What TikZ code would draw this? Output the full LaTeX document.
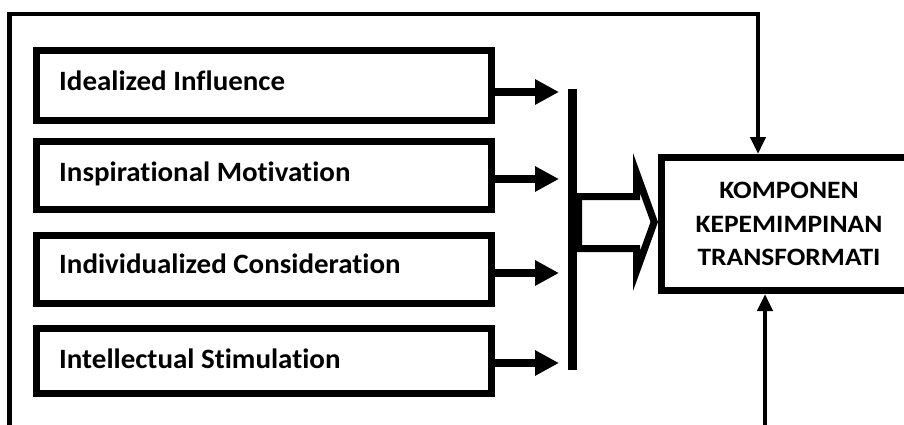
\documentclass[tikz,border=0pt]{standalone}
\usepackage{fontspec}
\setmainfont{Carlito}[Ligatures=NoCommon]
\newfontfamily\leftfont{Carlito}[Ligatures=NoCommon, FakeStretch=1.035]
\newfontfamily\boxfont{Carlito}[Ligatures=NoCommon, FakeStretch=1.1]
\usetikzlibrary{arrows.meta}

\tikzset{
  lbox/.style={draw=black, line width=6.5pt, minimum width=455pt, minimum height=70pt,
    inner sep=0pt},
  ltext/.style={anchor=base west, inner sep=0pt, font=\leftfont\fontsize{28}{34}\selectfont\bfseries},
  kbox/.style={draw=black, line width=7pt, minimum width=255pt, minimum height=133pt,
    align=center, inner sep=0pt, font=\boxfont\fontsize{25}{33.5}\selectfont\bfseries},
  feed/.style={line width=8pt, -{Triangle[length=24pt,width=24pt]}},
  frame/.style={line width=4.2pt, -{Triangle[length=17pt,width=15pt]}},
}

\begin{document}
\begin{tikzpicture}[x=1pt, y=-1pt]
  \useasboundingbox (0,0) rectangle (904,425);
  \clip (0,0) rectangle (904,425);

  % four component boxes
  \node[lbox] (b1) at (264,85.5) {};
  \node[lbox, minimum height=68pt] (b2) at (264,175.5) {};
  \node[lbox, minimum height=68pt] (b3) at (264,269.5) {};
  \node[lbox, minimum height=65pt] (b4) at (264,361) {};

  \node[ltext] (t1) at (59,91) {Idealized Influence};
  \node[ltext] (t2) at (59,181) {Inspirational Motivation};
  \node[ltext] (t3) at (59,273) {Individualized Consideration};
  \node[ltext] (t4) at (59,368) {Intellectual Stimulation};

  % collecting bar
  \node[fill=black, inner sep=0pt, minimum width=9pt, minimum height=281pt] (bar) at (572.5,229.5) {};

  % arrows into the bar
  \coordinate (a1) at (559,92);
  \coordinate (a2) at (559,179);
  \coordinate (a3) at (559,273);
  \coordinate (a4) at (559,363);
  \draw[feed] (b1.east |- a1) -- (a1);
  \draw[feed] (b2.east |- a2) -- (a2);
  \draw[feed] (b3.east |- a3) -- (a3);
  \draw[feed] (b4.east |- a4) -- (a4);

  % target box
  \node[kbox] (K) at (789,224) {KOMPONEN\\KEPEMIMPINAN\\TRANSFORMATI};

  % hollow block arrow from the bar to the target box
  \fill[black, even odd rule]
    (575,193) -- (633,193) -- (633,153) -- (658,222) -- (633,291) -- (633,252) -- (575,252) -- cycle
    (582,200) -- (640,200) -- (640,193) -- (650.5,222) -- (640,251) -- (640,245) -- (582,245) -- cycle;

  % outer feedback frame
  \coordinate (fl) at (9.5,425);
  \coordinate (fc) at (9.5,14);
  \coordinate (fr) at (758,14);
  \draw[frame, line join=miter] (fl) -- (fc) -- (fr) -- (fr |- K.north);

  % input from below
  \coordinate (src) at (765,425);
  \draw[frame] (src) -- (src |- K.south);
\end{tikzpicture}
\end{document}
